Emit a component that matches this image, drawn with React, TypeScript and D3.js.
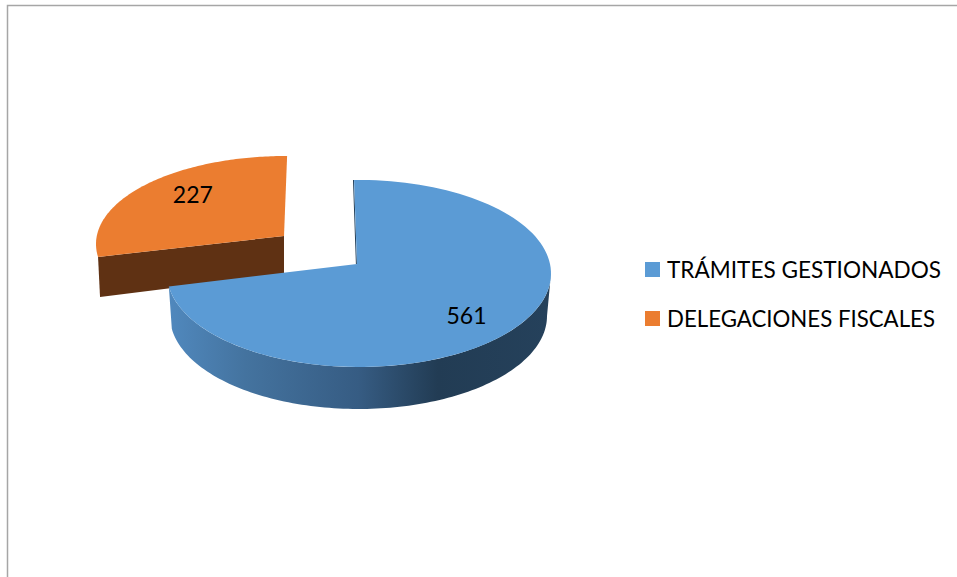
import React from "react";
import * as d3 from "d3";

const WIDTH = 957;
const HEIGHT = 577;

const categories = ["TRÁMITES GESTIONADOS", "DELEGACIONES FISCALES"];
const values = [561, 227];
const colors = ["#5b9bd5", "#eb7d30"];
const legendWidths = [274, 268];

// Projection of each slice: rim ellipses in pixels, apex of the wedge, perspective lean
const FRAMES = [
  {
    top: { x: [167, 551], y: [180, 367] },
    bottom: { x: [170, 547], y: [223, 409] },
    apex: [357, 264],
    lean: -0.017,
    label: [0.725, 0.885],
  },
  {
    top: { x: [96, 476], y: [156, 332] },
    bottom: { x: [98, 472], y: [196, 372] },
    apex: [284, 236],
    lean: 0.018,
    label: [0.61, 0.77],
  },
];

const WALL_COLOR = "#5f3113";
const EDGE_COLOR = "#23405a";
const BORDER_COLOR = "#a6a6a6";
const FONT = "Lato, 'Open Sans', sans-serif";

const sideStops = [
  [0, "#5088bd"],
  [0.2, "#44739f"],
  [0.5, "#365c83"],
  [0.71, "#223c54"],
  [1, "#25415b"],
];

const pie = d3
  .pie<number>()
  .sort(null)
  .value((d) => d);

const arcs = pie(values);

type Frame = (typeof FRAMES)[number];

// Eccentric angle on the rim hit by the ray leaving the apex at a pie angle
const rimAngle = (frame: Frame, theta: number) => {
  const x = d3.scaleLinear().domain(frame.top.x).range([-1, 1]);
  const y = d3.scaleLinear().domain(frame.top.y).range([-1, 1]);
  const ax = x(frame.apex[0]);
  const ay = y(frame.apex[1]);
  const dx = Math.sin(theta) + frame.lean * Math.cos(theta);
  const dy = -Math.cos(theta);
  const norm = Math.hypot(dx, dy);
  const ux = dx / norm;
  const uy = dy / norm;
  const dot = ax * ux + ay * uy;
  const s = -dot + Math.sqrt(dot * dot - (ax * ax + ay * ay - 1));
  return Math.atan2(ax + s * ux, -(ay + s * uy));
};

const rimPoints = (
  ellipse: Frame["top"],
  from: number,
  to: number
): [number, number][] => {
  const x = d3.scaleLinear().domain([-1, 1]).range(ellipse.x);
  const y = d3.scaleLinear().domain([-1, 1]).range(ellipse.y);
  return d3
    .range(0, 121)
    .map((i) => from + ((to - from) * i) / 120)
    .map((t) => [x(Math.sin(t)), y(-Math.cos(t))]);
};

const line = d3.line();

const App = () => {
  const [blue, orange] = arcs;
  const [blueFrame, orangeFrame] = FRAMES;

  const blueStart = rimAngle(blueFrame, blue.startAngle);
  let blueEnd = rimAngle(blueFrame, blue.endAngle);
  if (blueEnd < blueStart) blueEnd += 2 * Math.PI;

  let orangeStart = rimAngle(orangeFrame, orange.startAngle);
  let orangeEnd = rimAngle(orangeFrame, orange.endAngle);
  if (orangeStart < 0) orangeStart += 2 * Math.PI;
  if (orangeEnd < orangeStart) orangeEnd += 2 * Math.PI;

  const blueRim = rimPoints(blueFrame.top, blueStart, blueEnd);
  const orangeRim = rimPoints(orangeFrame.top, orangeStart, orangeEnd);

  // Outer wall of the big slice: visible from the right extreme round to its end
  const sideTop = rimPoints(blueFrame.top, Math.PI / 2, blueEnd);
  const sideBottom = rimPoints(blueFrame.bottom, Math.PI / 2, blueEnd).reverse();

  // Cut face of the exploded slice, from apex to its first rim point
  const wallTop = rimPoints(orangeFrame.top, orangeStart, orangeStart)[0];
  const wallBottom = rimPoints(orangeFrame.bottom, orangeStart, orangeStart)[0];
  const depth = wallBottom[1] - wallTop[1];
  const apexO = orangeFrame.apex as [number, number];
  const apexB = blueFrame.apex as [number, number];

  const labelPos = (i: number) => {
    const frame = FRAMES[i];
    const mid = (arcs[i].startAngle + arcs[i].endAngle) / 2;
    const rx = (frame.top.x[1] - frame.top.x[0]) / 2;
    const ry = (frame.top.y[1] - frame.top.y[0]) / 2;
    return [
      frame.apex[0] + Math.sin(mid) * frame.label[0] * rx,
      frame.apex[1] - Math.cos(mid) * frame.label[1] * ry,
    ];
  };

  const legendY = d3.scalePoint<string>().domain(categories).range([269.5, 318.5]);

  return (
    <svg
      width={WIDTH}
      height={HEIGHT}
      style={{ position: "absolute", left: 0, top: 0, background: "#fff" }}
    >
      <defs>
        <linearGradient
          id="side"
          gradientUnits="userSpaceOnUse"
          x1={blueFrame.bottom.x[0]}
          x2={blueFrame.bottom.x[1]}
          y1={0}
          y2={0}
        >
          {sideStops.map(([o, c]) => (
            <stop key={o} offset={o} stopColor={c as string} />
          ))}
        </linearGradient>
      </defs>

      <path
        d={`M7.5,${HEIGHT}V5.5H${WIDTH}`}
        fill="none"
        stroke={BORDER_COLOR}
        strokeWidth={1.5}
      />

      {/* exploded slice */}
      <path
        d={
          line([
            wallTop,
            wallBottom,
            [apexO[0], apexO[1] + depth - 2],
            apexO,
          ])! + "Z"
        }
        fill={WALL_COLOR}
      />
      <path d={line([apexO, ...orangeRim])! + "Z"} fill={colors[1]} />

      {/* main slice */}
      <path d={line([...sideTop, ...sideBottom])! + "Z"} fill="url(#side)" />
      <path d={line([blueRim[0], apexB])!} stroke={EDGE_COLOR} strokeWidth={1} transform="translate(-0.6,0)" fill="none" />
      <path d={line([apexB, ...blueRim])! + "Z"} fill={colors[0]} />

      {values.map((v, i) => {
        const [x, y] = labelPos(i);
        return (
          <text
            key={categories[i]}
            x={x}
            y={y}
            textAnchor="middle"
            dominantBaseline="central"
            fontFamily={FONT}
            fontSize={23}
            fill="#000"
          >
            {v}
          </text>
        );
      })}

      {categories.map((c, i) => (
        <g key={c} transform={`translate(645,${legendY(c)})`}>
          <rect x={0} y={-7.5} width={15} height={15} fill={colors[i]} />
          <text
            x={22}
            y={8}
            fontFamily={FONT}
            fontSize={22.5}
            fill="#000"
            textLength={legendWidths[i]}
            lengthAdjust="spacingAndGlyphs"
          >
            {c}
          </text>
        </g>
      ))}
    </svg>
  );
};

export default App;
